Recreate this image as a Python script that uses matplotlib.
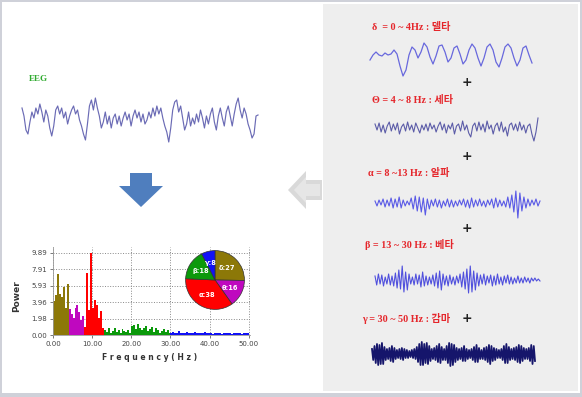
import numpy as np
import matplotlib
matplotlib.use("Agg")
import matplotlib.pyplot as plt
from matplotlib.patches import Rectangle, Polygon

# ---- data ----
# raw EEG trace (pixel amplitude, up = positive)
eeg = [12, 4, -10, -14, -2, 8, 2, 12, 6, 16, 8, -2, 10, 4, -8, -16, -6, 10, 14, 6,
       12, 2, 8, -4, 4, 10, 14, 6, 10, 0, -6, -14, -20, -4, 14, 20, 10, 22, 12, 4,
       -8, -2, 8, -4, 4, -8, 2, 6, -4, 4, -6, 2, 8, 0, 6, -6, 4, 10, 2, 8,
       -2, 6, -4, 0, 8, 2, 12, 4, 14, 6, 12, 2, -6, -12, -22, -8, 10, 18, 20, 8,
       14, 2, -10, -4, 8, -6, 2, -4, 6, -2, 10, 2, -8, 4, -4, 6, 12, -2, -10, 4,
       12, 2, -6, 8, 14, 4, -6, 6, 16, 22, 10, 2, 12, 6, -4, -10, -18, -14, 4, 5]

delta_wave = [-3, 2, 5, 2, 1, 4, 2, 3, 7, 3, -9, -19, -13, 2, 10, 7, -1, 5, 14, 10,
              0, -7, 1, 11, 12, 5, -5, -1, 9, 11, 3, -7, -3, 7, 13, 9, -1, -9, -1, 10,
              13, 7, -5, -10, -1, 10, 13, 9, -1, -9, -3, 9, 11, 2, -6]

theta_wave = [4, -2, 5, -4, 3, -5, 2, 6, -3, 4, -2, 5, -6, 1, 4, -3, 6, -2, 3, -4,
              5, 0, -5, 3, -2, 4, -3, 5, -1, 3, -4, 2, 6, -2, 4, -5, 3, -1, 5, -6,
              2, 4, -3, 7, -2, 3, -5, -9, 2, 5, -3, 6, -2, 4, -4, 7, -1, 3, -6, 2,
              5, -3, 6, -4, 1, -8, 3, 5, -2, 4, -3, 6, -2, 3, -5, 2, 4, -6, -13, -4, 10]

alpha_wave = [2, -3, 3, -2, 4, -4, 3, -3, 5, -5, 4, -4, 6, -5, 3, -3, 2, -2, 5, -6,
              7, -8, 6, -9, 5, -12, 4, -6, 3, -3, 4, -4, 3, -5, 2, -3, 4, -4, 3, -4,
              2, -3, 3, -2, 4, -4, 3, -5, 5, -4, 3, -3, 4, -3, 2, -4, 3, -2, 4, -5,
              5, -4, 3, -3, 2, -4, 6, -5, 8, -9, 12, -15, 10, -8, 6, -5, 4, -3, 3, -2, 4, -3, 2]

beta_wave = [4, -5, 6, -4, 5, -6, 3, -4, 6, -5, 4, -6, 7, -8, 10, -9, 14, -12, 8, -10,
             6, -4, 3, -5, 6, -4, 5, -7, 8, -6, 4, -5, 3, -4, 5, -6, 7, -8, 9, -10,
             6, -5, 4, -6, 5, -4, 3, -5, 4, -3, 6, -7, 8, -9, 11, -13, 14, -12, 9, -10,
             7, -6, 5, -4, 6, -5, 4, -3, 5, -6, 4, -5, 6, -4, 3, -5, 4, -3, 5, -4,
             3, -4, 2, -3, 4, -3, 2, -3, 3, -2, 2, -3, 2, -1, 2, -1, 1, -1]

gamma_wave = [5, -6, 8, -9, 10, -11, 9, -10, 11, -10, 7, -6, 5, -5, 6, -7, 8, -8, 6, -5,
              4, -4, 5, -5, 6, -6, 5, -4, 4, -4, 3, -3, 4, -4, 5, -5, 7, -8, 10, -11,
              12, -11, 10, -9, 11, -10, 8, -7, 5, -5, 6, -6, 8, -8, 10, -9, 7, -6, 5, -6,
              8, -9, 11, -12, 10, -11, 9, -8, 6, -6, 5, -5, 6, -7, 8, -7, 5, -5, 4, -4,
              5, -6, 7, -8, 9, -8, 6, -5, 4, -5, 6, -6, 7, -8, 9, -10, 8, -7, 6, -6,
              5, -4, 4, -4, 5, -6, 8, -9, 10, -9, 7, -6, 5, -5, 6, -6, 7, -8, 9, -9,
              8, -7, 6, -5, 5, -5, 6, -7, 9, -10, 8, -7]

band_labels = ["\u03b4  = 0 ~ 4Hz : 델타", "\u0398 = 4 ~ 8 Hz : 세타", "\u03b1 = 8 ~13 Hz : 알파",
               "\u03b2 = 13 ~ 30 Hz : 베타", "\u03b3 = 30 ~ 50 Hz : 감마"]

# power spectrum, 0.5 Hz bins
delta_pow = [4.1, 4.8, 7.4, 4.9, 4.6, 5.8, 3.2, 6.1]
theta_pow = [3.1, 2.5, 2.1, 3.3, 3.6, 2.8, 1.8, 2.3]
alpha_pow = [1.0, 7.5, 3.0, 9.89, 3.2, 4.2, 3.6, 2.1, 2.9, 0.9]
beta_pow = [0.6, 0.4, 0.8, 0.3, 0.5, 0.9, 0.4, 0.6, 0.3, 0.7, 0.5, 0.4, 0.6, 0.3, 1.1, 1.2, 0.7,
            1.3, 0.8, 0.6, 0.9, 1.1, 0.5, 0.7, 1.0, 0.4, 0.8, 0.6, 0.3, 0.5, 0.7, 0.4, 0.6, 0.3]
gamma_pow = [0.2, 0.4, 0.3, 0.2, 0.5, 0.3, 0.2, 0.3, 0.4, 0.2, 0.3, 0.2, 0.4, 0.3, 0.2, 0.3, 0.2, 0.4,
             0.2, 0.3, 0.2, 0.1, 0.3, 0.2, 0.2, 0.3, 0.1, 0.2, 0.3, 0.2, 0.2, 0.1, 0.3, 0.2, 0.2, 0.3,
             0.1, 0.2, 0.2, 0.3]
yticks = [0.00, 1.98, 3.96, 5.93, 7.91, 9.89]
xticks = [0, 10, 20, 30, 40, 50]

pie_names = ["\u03b4", "\u03b8", "\u03b1", "\u03b2", "\u03b3"]
pie_vals = [27, 16, 38, 18, 8]

band_colors = ["#8c7808", "#bf08bf", "#ff0000", "#0b990b", "#1212f5"]

W, H = 582, 397
fig = plt.figure(figsize=(W / 100, H / 100), dpi=100, facecolor="#cfd1d9")
ax = fig.add_axes([0, 0, 1, 1])
ax.set_xlim(0, W)
ax.set_ylim(H, 0)
ax.axis("off")

# panels
ax.add_patch(Rectangle((2, 2), 578, 391, facecolor="white", edgecolor="none"))
ax.add_patch(Rectangle((323, 4), 255, 387, facecolor="#eeeeee", edgecolor="none"))

# EEG
ax.text(29, 79, "EEG", color="#2eaa2e", fontsize=6.5, fontweight="bold",
        family="Liberation Serif", va="center")
xs = np.linspace(22, 258, len(eeg))
ax.plot(xs, 120 - np.array(eeg), color="#6b6bb5", lw=0.85)

# arrows
ax.add_patch(Polygon([(130, 173), (152, 173), (152, 186), (163, 186), (141, 207),
                      (119, 186), (130, 186)], closed=True, facecolor="#4f7ebe", edgecolor="none"))
ax.add_patch(Polygon([(288, 190), (306, 171), (306, 180), (322, 180), (322, 200),
                      (306, 200), (306, 209)], closed=True, facecolor="#d9d9d9", edgecolor="none"))
ax.add_patch(Polygon([(294, 190), (306, 177), (306, 184), (320, 184), (320, 196),
                      (306, 196), (306, 203)], closed=True, facecolor="#e6e6e6", edgecolor="none"))

# band waves
waves = [delta_wave, theta_wave, alpha_wave, beta_wave, gamma_wave]
spans = [(370, 532, 57), (375, 538, 128), (375, 540, 203), (375, 540, 280), (372, 535, 354)]
wcols = ["#6868dd", "#5c5ca8", "#5a5ae6", "#5050dd", "#15156b"]
wlw = [0.9, 0.8, 0.8, 0.8, 1.3]
label_pos = [(372, 27), (372, 100), (368, 173), (365, 245), (362, 319)]
for w, (x0, x1, yc), c, lw, lab, (lx, ly) in zip(waves, spans, wcols, wlw, band_labels, label_pos):
    ax.plot(np.linspace(x0, x1, len(w)), yc - np.array(w), color=c, lw=lw)
    ax.text(lx, ly, lab, color="#e5262b", fontsize=7.3, fontweight="bold", va="center",
            family=["Liberation Serif", "Noto Sans CJK KR"])
for py in [82, 157, 228, 318]:
    ax.text(467, py, "+", color="#222222", fontsize=9, fontweight="bold", ha="center", va="center")

# spectrum
ax2 = fig.add_axes([53 / W, 1 - 335 / H, 197 / W, 88 / H])
bands = [delta_pow, theta_pow, alpha_pow, beta_pow, gamma_pow]
start = 0.0
for vals, col in zip(bands, band_colors):
    bx = start + 0.5 * np.arange(len(vals))
    ax2.bar(bx, vals, width=0.5, align="edge", color=col, linewidth=0)
    start += 0.5 * len(vals)
ax2.set_xlim(0, 50.3)
ax2.set_ylim(0, 10.6)
ax2.set_yticks(yticks)
ax2.set_yticklabels(["%.2f" % v for v in yticks])
ax2.set_xticks(xticks)
ax2.set_xticklabels(["%.2f" % v for v in xticks])
ax2.tick_params(labelsize=5, colors="#444444", length=2, width=0.5, pad=2)
ax2.grid(True, linestyle=":", color="#888888", lw=0.7)
ax2.set_axisbelow(True)
for s in ["top", "right"]:
    ax2.spines[s].set_visible(False)
for s in ["left", "bottom"]:
    ax2.spines[s].set_color("#999999")
    ax2.spines[s].set_linewidth(0.6)
ax2.patch.set_alpha(0)
fig.text(17 / W, 1 - 296 / H, "Power", rotation=90, fontsize=6.5, color="#333333",
         ha="center", va="center", fontweight="bold")
fig.text(150 / W, 1 - 357 / H, "F r e q u e n c y ( H z )", fontsize=5.5, color="#333333",
         ha="center", va="center", fontweight="bold")

# pie
ax3 = fig.add_axes([185 / W, 1 - 310 / H, 60 / W, 60 / H])
wedges, _ = ax3.pie(pie_vals, colors=band_colors, startangle=90, counterclock=False,
                    wedgeprops=dict(edgecolor="#333333", linewidth=0.5))
for wdg, nm, v in zip(wedges, pie_names, pie_vals):
    ang = np.deg2rad((wdg.theta1 + wdg.theta2) / 2)
    ax3.text(0.58 * np.cos(ang), 0.58 * np.sin(ang), "%s:%d" % (nm, v), color="white",
             fontsize=4.8, fontweight="bold", ha="center", va="center")
ax3.set_xlim(-1.02, 1.02)
ax3.set_ylim(-1.02, 1.02)
ax3.set_aspect("equal")

fig.savefig("out.png", dpi=100, facecolor=fig.get_facecolor())
